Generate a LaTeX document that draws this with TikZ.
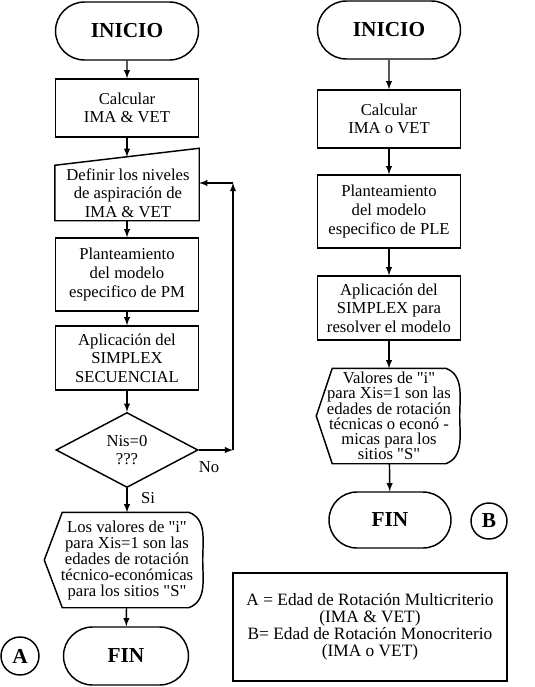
\documentclass[tikz,border=0pt]{standalone}
\usepackage{fontspec}
\setmainfont{Liberation Serif}
\usetikzlibrary{shapes.geometric,shapes.misc}
\tikzset{>=latex}
\tikzset{
  term/.style={draw,rounded rectangle,minimum width=107.25pt,minimum height=43.5pt,inner sep=0pt,font=\fontsize{16}{18}\selectfont\bfseries},
  proc/.style={draw,rectangle,minimum width=107.25pt,inner sep=0pt,align=center,font=\fontsize{12.5}{14}\selectfont},
  txt/.style={inner sep=0pt,align=center,font=\fontsize{12.5}{14}\selectfont},
  tag/.style={draw,circle,inner sep=0pt,font=\fontsize{16}{18}\selectfont\bfseries}
}
\newcommand\qt{\textquotedbl}

\begin{document}
\begin{tikzpicture}[x=.75pt,y=-.75pt,line width=1.1pt]
    \useasboundingbox(0, 0)rectangle(535, 687);
    % A: multicriterio
    \node[term](iniA)at(127, 31){INICIO};
    \node[proc, minimum height=43.5pt](calA)at(127, 108){Calcular\\IMA \& VET};
    \node[txt, minimum width=107.25pt, minimum height=53.25pt](defA)at(127, 184.5){};
    \draw(defA.south west)--(defA.south east)--(defA.north east)--([yshift=-12.75pt]defA.north west)--cycle;
    \node[txt](defT)at(128, 193){Definir los niveles\\de aspiración de\\IMA \& VET};
    \node[proc, minimum height=54.75pt](plaA)at(127, 274.5){Planteamiento\\del modelo\\especifico de PM};
    \node[proc, minimum height=48pt](simA)at(127, 358){Aplicación del\\SIMPLEX\\SECUENCIAL};
    \node[draw, diamond, aspect=1.9, minimum width=106.5pt, minimum height=56.25pt, inner sep=0pt, align=center, font=\fontsize{12.5}{14}\selectfont](decA)at(127, 450){Nis=0\\???};
    \node[txt, font=\fontsize{12.5}{12}\selectfont, minimum width=112.5pt, minimum height=70.5pt](valA)at(127, 560){Los valores de \qt i\qt\\para Xis=1 son las\\edades de rotación\\técnico-económicas\\para los sitios \qt S\qt};
    \draw([xshift=-5.25pt]valA.west)--([xshift=8.25pt]valA.north west)--([xshift=-10.5pt]valA.north east)
        to[out=-20, in=90](valA.east)to[out=-90, in=20]([xshift=-10.5pt]valA.south east)
        --([xshift=8.25pt]valA.south west)--cycle;
    \node[term, minimum width=93.75pt](finA)at(126, 656){FIN};
    \node[tag, minimum size=28.5pt](tagA)at(20, 656){A};
    \coordinate(c1)at(233, 450);
    \coordinate(c2)at(233, 183);
    \draw[->](iniA)--(calA);
    \draw[->](calA)--([yshift=-6.4pt]defA.north);
    \draw[->](defA)--(plaA);
    \draw[->](plaA)--(simA);
    \draw[->](simA)--(decA);
    \draw[->](decA)--(valA);
    \draw[->](valA)--(finA);
    \draw[->](decA.east)--(c1);
    \draw[->](c1)--(c2);
    \draw[->](c2)--(defA.east |- c2);
    \node[txt](no)at(209, 467){No};
    \node[txt](si)at(148, 498){Si};
    % B: monocriterio
    \node[term](iniB)at(389, 30){INICIO};
    \node[proc, minimum height=43.5pt](calB)at(389, 119){Calcular\\IMA o VET};
    \node[proc, minimum height=54.75pt](plaB)at(389, 211.5){Planteamiento\\del modelo\\especifico de PLE};
    \node[proc, minimum height=48pt](simB)at(389, 308){Aplicación del\\SIMPLEX para\\resolver el modelo};
    \node[txt, font=\fontsize{12.5}{11.4}\selectfont, minimum width=105pt, minimum height=70.5pt](valB)at(389, 416){Valores de \qt i\qt\\ para Xis=1 son las\\edades de rotación\\técnicas o econó -\\micas para los\\sitios \qt S\qt};
    \draw([xshift=-1.5pt]valB.west)--([xshift=10.5pt]valB.north west)--([xshift=-10.5pt]valB.north east)
        to[out=-20, in=90](valB.east)to[out=-90, in=20]([xshift=-10.5pt]valB.south east)
        --([xshift=10.5pt]valB.south west)--cycle;
    \node[term, minimum width=91.5pt, minimum height=42pt](finB)at(390, 520){FIN};
    \node[tag, minimum size=27pt](tagB)at(489, 521){B};
    \draw[->](iniB)--(calB);
    \draw[->](calB)--(plaB);
    \draw[->](plaB)--(simB);
    \draw[->](simB)--(valB);
    \draw[->](valB)--(finB);
    % leyenda
    \node[draw, minimum width=205.5pt, minimum height=81pt, align=center, font=\fontsize{13}{12.8}\selectfont](ley)at(370, 627){A = Edad de Rotación Multicriterio\\(IMA \& VET)\\B= Edad de Rotación Monocriterio\\(IMA o VET)};
\end{tikzpicture}
\end{document}
